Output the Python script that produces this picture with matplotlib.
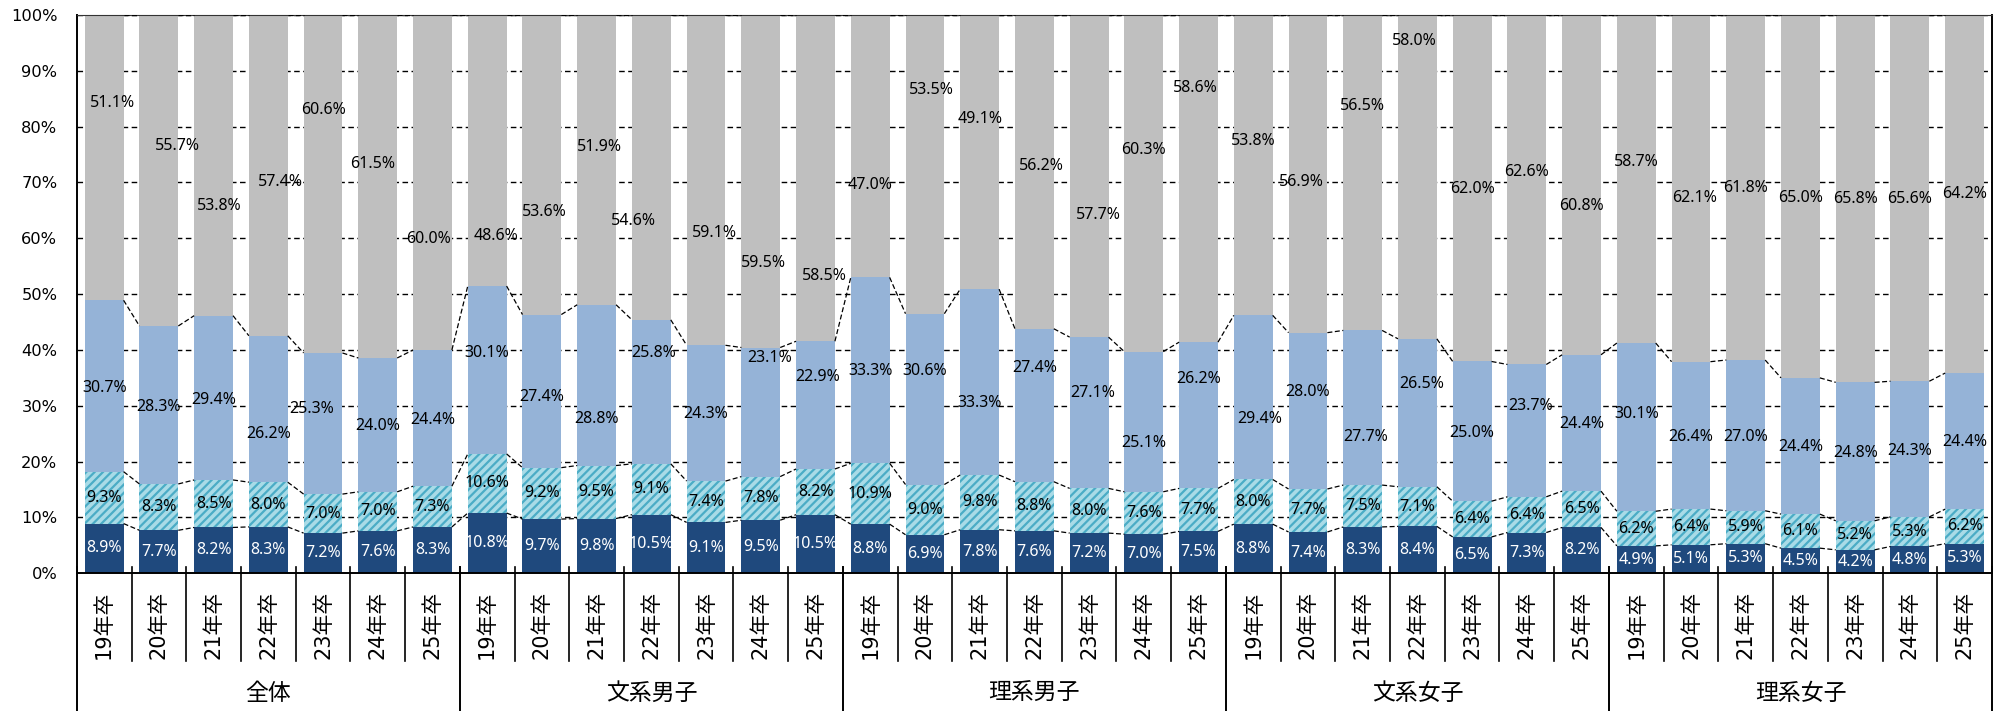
import numpy as np
import matplotlib
matplotlib.use('Agg')
import matplotlib.pyplot as plt
from matplotlib.transforms import blended_transform_factory

plt.rcParams['font.family'] = ['DejaVu Sans', 'Noto Sans CJK JP']
plt.rcParams['hatch.linewidth'] = 1.6

# ---------------- data ----------------
groups = ['全体', '文系男子', '理系男子', '文系女子', '理系女子']
years = ['19年卒', '20年卒', '21年卒', '22年卒', '23年卒', '24年卒', '25年卒']

# bottom segment (dark navy)
seg1 = [8.9, 7.7, 8.2, 8.3, 7.2, 7.6, 8.3,
        10.8, 9.7, 9.8, 10.5, 9.1, 9.5, 10.5,
        8.8, 6.9, 7.8, 7.6, 7.2, 7.0, 7.5,
        8.8, 7.4, 8.3, 8.4, 6.5, 7.3, 8.2,
        4.9, 5.1, 5.3, 4.5, 4.2, 4.8, 5.3]
# second segment (hatched teal)
seg2 = [9.3, 8.3, 8.5, 8.0, 7.0, 7.0, 7.3,
        10.6, 9.2, 9.5, 9.1, 7.4, 7.8, 8.2,
        10.9, 9.0, 9.8, 8.8, 8.0, 7.6, 7.7,
        8.0, 7.7, 7.5, 7.1, 6.4, 6.4, 6.5,
        6.2, 6.4, 5.9, 6.1, 5.2, 5.3, 6.2]
# third segment (light blue)
seg3 = [30.7, 28.3, 29.4, 26.2, 25.3, 24.0, 24.4,
        30.1, 27.4, 28.8, 25.8, 24.3, 23.1, 22.9,
        33.3, 30.6, 33.3, 27.4, 27.1, 25.1, 26.2,
        29.4, 28.0, 27.7, 26.5, 25.0, 23.7, 24.4,
        30.1, 26.4, 27.0, 24.4, 24.8, 24.3, 24.4]
# top segment (gray)
seg4 = [51.1, 55.7, 53.8, 57.4, 60.6, 61.5, 60.0,
        48.6, 53.6, 51.9, 54.6, 59.1, 59.5, 58.5,
        47.0, 53.5, 49.1, 56.2, 57.7, 60.3, 58.6,
        53.8, 56.9, 56.5, 58.0, 62.0, 62.6, 60.8,
        58.7, 62.1, 61.8, 65.0, 65.8, 65.6, 64.2]

# ------------- label placement (as in the original, manually moved) -------------
gray_label_y = [84.3, 76.6, 65.8, 70.0, 82.9, 73.4, 59.8,
                60.5, 64.7, 76.3, 63.1, 60.9, 55.5, 53.3,
                69.5, 86.5, 81.3, 72.9, 64.2, 75.8, 87.0,
                77.4, 70.1, 83.7, 95.3, 68.8, 71.9, 65.7,
                73.6, 67.3, 69.0, 67.3, 67.1, 67.1, 67.9]
gray_label_dx = [0.16, 0.34, 0.10, 0.22, 0, -0.10, -0.08,
                 0.16, 0.04, 0.06, -0.32, 0.16, 0.05, 0.16,
                 0, 0.11, 0, 0.12, 0.17, 0, -0.06,
                 0, -0.12, 0, -0.06, 0, 0, 0,
                 0, 0.07, 0, 0, 0, 0, 0]
blue_label_y = [33.1, 29.7, 31.0, 25.0, 29.4, 26.4, 27.5,
                39.5, 31.5, 27.7, 39.5, 28.5, 38.6, 35.1,
                36.2, 36.3, 30.5, 36.7, 32.3, 23.3, 34.8,
                27.7, 32.4, 24.5, 33.9, 25.2, 29.9, 26.7,
                28.6, 24.5, 24.5, 22.6, 21.6, 21.9, 23.5]
blue_label_dx = [0, 0, 0, 0, -0.21, 0, 0,
                 0, 0, 0, 0.05, 0, 0.17, 0.04,
                 0, 0, 0, 0, 0.06, 0, 0,
                 0.12, 0, 0.06, 0.07, 0, 0.06, 0,
                 0, 0, 0, 0, 0, 0, 0]

# ---------------- styling ----------------
c_navy = '#1f497d'
c_hatch_face = '#a9dbe7'
c_hatch_line = '#4bacc6'
c_blue = '#95b3d7'
c_gray = '#bfbfbf'
bar_w = 0.71
lab_font = ['Noto Sans', 'DejaVu Sans']
lab_fs = 11.5

a1, a2, a3, a4 = (np.array(s, float) for s in (seg1, seg2, seg3, seg4))
tot = a1 + a2 + a3 + a4
h1, h2, h3, h4 = (a / tot * 100 for a in (a1, a2, a3, a4))
b2 = h1
b3 = h1 + h2
b4 = h1 + h2 + h3
top = b4 + h4

n = len(seg1)
x = np.arange(n)

fig = plt.figure(figsize=(20.05, 7.11), dpi=100)
ax = fig.add_axes([0.0383, 0.1937, 0.9552, 0.7852])

ax.bar(x, h1, width=bar_w, color=c_navy, linewidth=0, zorder=2)
ax.bar(x, h2, bottom=b2, width=bar_w, facecolor=c_hatch_face,
       edgecolor=c_hatch_line, hatch='////', linewidth=0, zorder=2)
ax.bar(x, h3, bottom=b3, width=bar_w, color=c_blue, linewidth=0, zorder=2)
ax.bar(x, h4, bottom=b4, width=bar_w, color=c_gray, linewidth=0, zorder=2)

# series lines between adjacent bars
for cum in (b2, b3, b4, top):
    xs, ys = [], []
    for i in range(n - 1):
        xs += [x[i] + bar_w / 2, x[i + 1] - bar_w / 2, np.nan]
        ys += [cum[i], cum[i + 1], np.nan]
    ax.plot(xs, ys, color='black', lw=0.9, ls=(0, (4, 2)), zorder=3)

# value labels
for i in range(n):
    ax.text(x[i], h1[i] / 2, f'{seg1[i]:.1f}%', ha='center', va='center',
            color='white', fontsize=lab_fs, family=lab_font, zorder=5)
    ax.text(x[i], b2[i] + h2[i] / 2, f'{seg2[i]:.1f}%', ha='center', va='center',
            color='black', fontsize=lab_fs, family=lab_font, zorder=5)
    ax.text(x[i] + blue_label_dx[i], blue_label_y[i], f'{seg3[i]:.1f}%',
            ha='center', va='center', color='black', fontsize=lab_fs,
            family=lab_font, zorder=5)
    ax.text(x[i] + gray_label_dx[i], gray_label_y[i], f'{seg4[i]:.1f}%',
            ha='center', va='center', color='black', fontsize=lab_fs,
            family=lab_font, zorder=5)

# axes formatting
ax.set_xlim(-0.5, n - 0.5)
ax.set_ylim(0, 100)
ax.set_yticks(np.arange(0, 101, 10))
ax.set_yticklabels([f'{v}%' for v in range(0, 101, 10)], fontsize=11.7)
ax.tick_params(axis='y', length=0, pad=14)
ax.set_xticks([])
ax.yaxis.grid(True, color='black', lw=1.0, ls=(0, (4, 2.5)), zorder=0)
ax.set_axisbelow(True)
for s in ('left', 'bottom', 'right'):
    ax.spines[s].set_color('black')
    ax.spines[s].set_linewidth(1.4)
ax.spines['top'].set_color('#333333')
ax.spines['top'].set_linewidth(0.8)

# category axis: labels & separators
trans = blended_transform_factory(ax.transData, ax.transAxes)
n_y = len(years)
for i in range(n):
    ax.text(x[i], -0.093, years[i % n_y], rotation=90, ha='center', va='center',
            fontsize=15, transform=trans, clip_on=False)
for i in range(n + 1):
    xb = i - 0.5
    if i % n_y == 0:
        ax.plot([xb, xb], [0.012, -0.246], color='black', lw=1.4,
                transform=trans, clip_on=False)
    else:
        ax.plot([xb, xb], [0.012, -0.158], color='black', lw=1.2,
                transform=trans, clip_on=False)
for g, name in enumerate(groups):
    ax.text(g * n_y + (n_y - 1) / 2, -0.215, name, ha='center', va='center',
            fontsize=16.5, transform=trans, clip_on=False)

fig.savefig('out.png', dpi=100)
